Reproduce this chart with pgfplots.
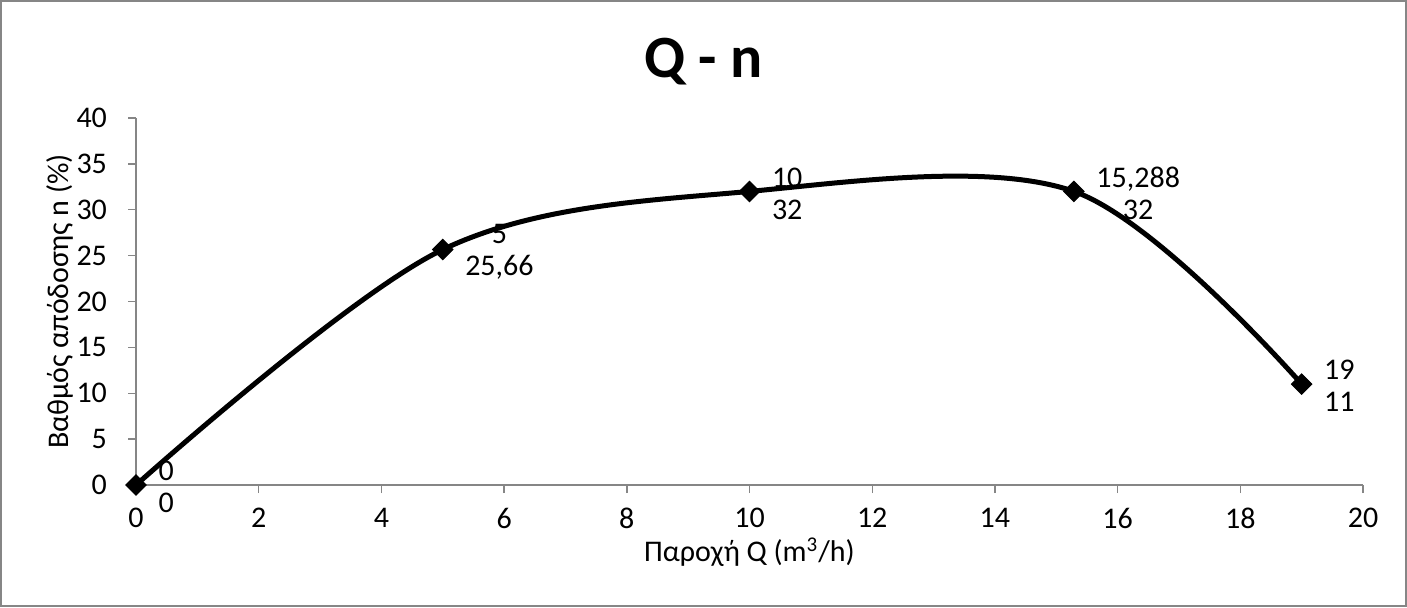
\documentclass[border=0pt]{standalone}
\usepackage{pgfplots}
\pgfplotsset{compat=1.18}
\usepackage{fontspec}
\setmainfont{Carlito}
\definecolor{axgray}{RGB}{134,134,134}
\definecolor{bordergray}{RGB}{134,134,134}
\begin{document}
\begin{tikzpicture}
\path[use as bounding box] (0,0) rectangle (703.5pt,303.5pt);
\draw[bordergray, line width=0.8pt] (0.6pt,0.6pt) rectangle (702.9pt,302.9pt);
\node[font=\fontsize{30}{34}\selectfont\bfseries] at (351.75pt,272.5pt) {Q - n};
\begin{axis}[
  at={(68pt,61pt)}, anchor=south west,
  scale only axis, width=613.5pt, height=183.5pt,
  xmin=0, xmax=20, ymin=0, ymax=40,
  xtick={0,2,...,20}, ytick={0,5,...,40},
  axis x line*=bottom, axis y line*=left,
  axis line style={axgray, line width=0.7pt},
  tick style={axgray, line width=0.7pt},
  tick align=outside, major tick length=4pt,
  /pgf/number format/assume math mode=true,
  every tick label/.append style={font=\fontsize{15}{18}\selectfont},
  xticklabel shift=4pt,
  yticklabel shift=7pt,
  xlabel={Παροχή Q (m\textsuperscript{3}/h)},
  ylabel={Βαθμός απόδοσης n (\%)},
  label style={font=\fontsize{15}{18}\selectfont},
  xlabel style={at={(axis description cs:0.5,-0.183)}, anchor=center},
  ylabel style={at={(axis description cs:-0.062,0.5)}, anchor=center},
  clip=false,
]
\addplot[black, line width=2.5pt, smooth, tension=0.55,
  mark=square*, mark size=3.6pt, mark options={rotate=45, line width=0.5pt},
  point meta=explicit symbolic,
  nodes near coords,
  every node near coord/.style={anchor=west, align=center, xshift=11pt, yshift=-1pt,
    font=\fontsize{15}{16}\selectfont, text=black, inner sep=0pt},
] coordinates {
  (0,0) [{0\\0}]
  (5,25.66) [{5\\25,66}]
  (10,32) [{10\\32}]
  (15.288,32) [{15,288\\32}]
  (19,11) [{19\\11}]
};
\end{axis}
\end{tikzpicture}
\end{document}
